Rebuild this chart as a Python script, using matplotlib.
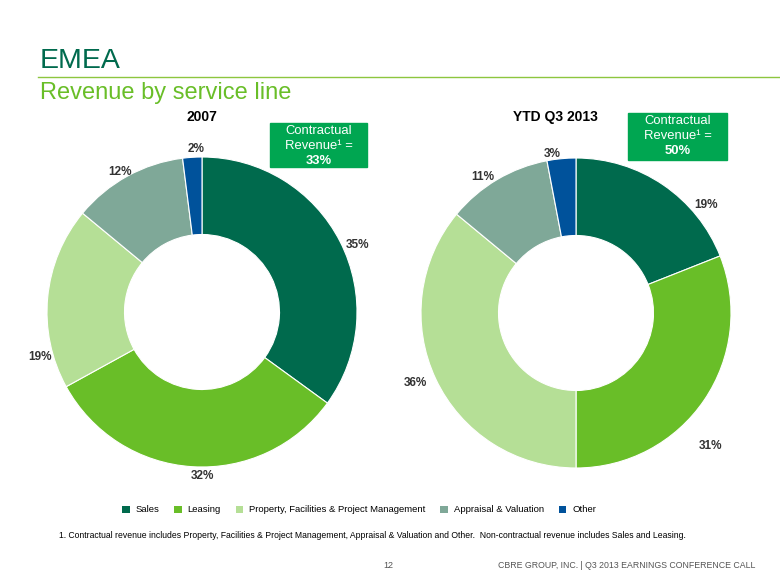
import numpy as np
import matplotlib.pyplot as plt
from matplotlib.patches import Patch

plt.rcParams['font.family'] = ['Liberation Sans', 'DejaVu Sans']

# Service lines and their revenue share (%)
categories = ['Sales', 'Leasing', 'Property, Facilities & Project Management',
              'Appraisal & Valuation', 'Other']
share_2007 = [35, 32, 19, 12, 2]
share_2013 = [19, 31, 36, 11, 3]
contractual_2007 = 33
contractual_2013 = 50

colors = ['#006A4D', '#69BE28', '#B5DF96', '#7FA898', '#00529B']
dark_green = '#006A4D'
box_green = '#00A651'

# label placement tweaks (degrees shift from wedge middle, radius) to mimic the slide
shift_2007 = [-3.6, 3.6, 21, 1.6, -1.5]
rad_2007 = [1.09, 1.06, 1.085, 1.05, 1.05]
shift_2013 = [-16, -10.6, -1.7, 3.8, 3.2]
rad_2013 = [1.09, 1.22, 1.13, 1.06, 1.04]

W, H = 780, 585
fig = plt.figure(figsize=(W / 100, H / 100), dpi=100)


def px_axes(cx, cy, r):
    return fig.add_axes([(cx - r) / W, 1 - (cy + r) / H, 2 * r / W, 2 * r / H])


def donut(ax, values, shifts, radii, title, title_x):
    wedges, _ = ax.pie(values, colors=colors, startangle=90, counterclock=False, radius=1,
                       wedgeprops=dict(width=0.5, edgecolor='white', linewidth=0.8))
    for w, v, s, r in zip(wedges, values, shifts, radii):
        ang = np.deg2rad((w.theta1 + w.theta2) / 2 + s)
        ax.text(r * np.cos(ang), r * np.sin(ang), f'{v}%', ha='center', va='center',
                fontsize=8.5, fontweight='bold', color='#333333', clip_on=False)
    ax.set_xlim(-1, 1)
    ax.set_ylim(-1, 1)
    ax.set_aspect('equal')
    ax.axis('off')
    fig.text(title_x / W, 1 - 117 / H, title, ha='center', va='center',
             fontsize=10, fontweight='bold', color='#000000')


ax1 = px_axes(202, 312, 155)
donut(ax1, share_2007, shift_2007, rad_2007, '2007', 202)
ax2 = px_axes(576, 313, 155)
donut(ax2, share_2013, shift_2013, rad_2013, 'YTD Q3 2013', 555)


def contract_box(x0, y0, w, h, pct):
    fig.patches.append(plt.Rectangle((x0 / W, 1 - (y0 + h) / H), w / W, h / H,
                                     transform=fig.transFigure, color=box_green, zorder=5))
    cx = (x0 + w / 2) / W
    fig.text(cx, 1 - (y0 + 8) / H, 'Contractual', ha='center', va='center',
             fontsize=9.4, color='white', zorder=6)
    fig.text(cx, 1 - (y0 + 23) / H, 'Revenue¹ =', ha='center', va='center',
             fontsize=9.4, color='white', zorder=6)
    fig.text(cx, 1 - (y0 + 38) / H, f'{pct}%', ha='center', va='center',
             fontsize=9.4, fontweight='bold', color='white', zorder=6)


contract_box(270, 123, 97, 44, contractual_2007)
contract_box(628, 113, 99, 47, contractual_2013)

# Header
fig.text(40 / W, 1 - 61 / H, 'EMEA', ha='left', va='center', fontsize=20.5, color=dark_green)
fig.add_artist(plt.Line2D([38 / W, 1], [1 - 77 / H, 1 - 77 / H], color='#8DC63F', linewidth=1))
fig.text(40 / W, 1 - 93 / H, 'Revenue by service line', ha='left', va='center',
         fontsize=17, color='#69BE28')

# Legend
handles = [Patch(facecolor=c, edgecolor='none', label=l) for c, l in zip(colors, categories)]
fig.legend(handles=handles, loc='center', bbox_to_anchor=(359 / W, 1 - 510 / H), ncol=5,
           frameon=False, fontsize=6.8, handlelength=0.8, handleheight=0.8,
           handletextpad=0.6, columnspacing=1.6)

fig.text(59 / W, 1 - 535 / H,
         '1. Contractual revenue includes Property, Facilities & Project Management, Appraisal & '
         'Valuation and Other.  Non-contractual revenue includes Sales and Leasing.',
         ha='left', va='center', fontsize=6.2, color='#000000')

fig.text(388 / W, 1 - 566 / H, '12', ha='center', va='center', fontsize=6.5, color='#555555')
fig.text(755 / W, 1 - 566 / H, 'CBRE GROUP, INC. | Q3 2013 EARNINGS CONFERENCE CALL',
         ha='right', va='center', fontsize=6.3, color='#555555')

fig.savefig('out.png', dpi=100)
